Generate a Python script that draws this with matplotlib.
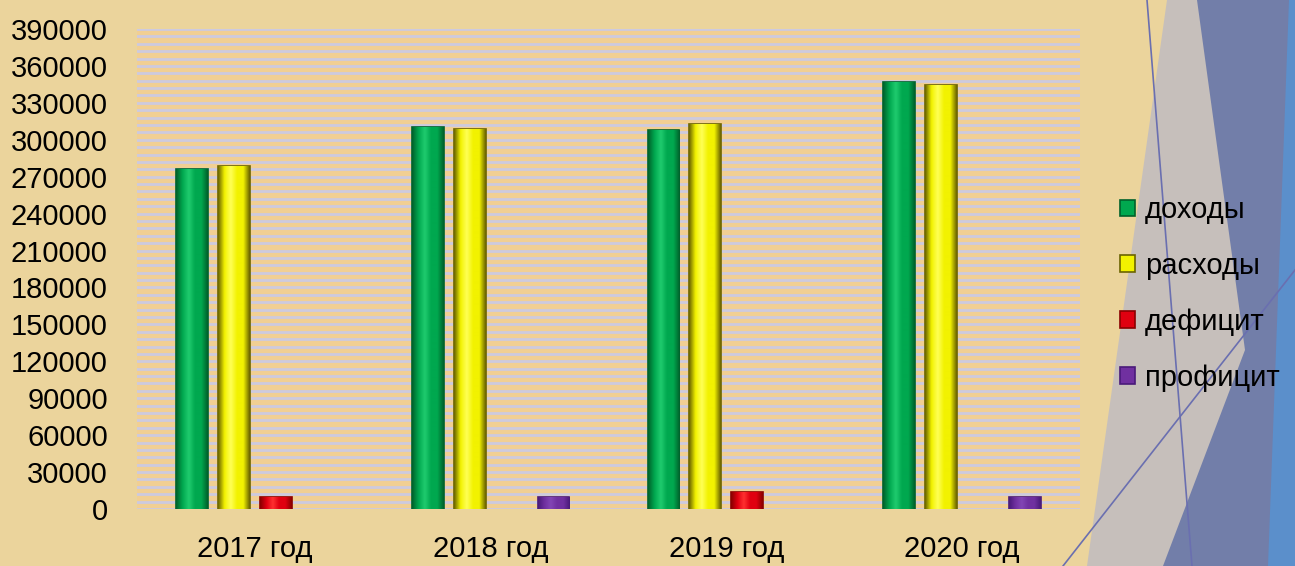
import numpy as np
import matplotlib.pyplot as plt
from matplotlib.colors import LinearSegmentedColormap
from matplotlib.patches import Polygon, Patch

# data
years = ["2017 год", "2018 год", "2019 год", "2020 год"]
dohody = [276500, 310500, 308000, 347000]
rashody = [279000, 308500, 313000, 344500]
deficit = [9700, np.nan, 13800, np.nan]
proficit = [np.nan, 9700, np.nan, 9700]

series_names = ["доходы", "расходы", "дефицит", "профицит"]
series_vals = [dohody, rashody, deficit, proficit]
# (dark edge, base, highlight)
series_cols = [
    ("#00612B", "#00A84F", "#1FCB6E"),
    ("#6B6400", "#F2F200", "#FFFF55"),
    ("#8A0000", "#E00010", "#FF3030"),
    ("#4A1A7A", "#7030A0", "#8245B5"),
]
yticks = np.arange(0, 390001, 30000)

plt.rcParams.update({
    "font.family": ["Liberation Sans", "DejaVu Sans"],
    "font.size": 21,
})

W, H = 1295, 566
fig = plt.figure(figsize=(W / 100, H / 100), dpi=100)
fig.patch.set_facecolor("#EBD49C")


def px(points):
    return [(x / W, 1 - y / H) for x, y in points]


# decorative shapes on the right
deco = [
    ([(1167, 0), (1295, 0), (1295, 566), (1087, 566)], "#BDBAC4", 0.8),
    ([(1197, 0), (1292, 0), (1270, 566), (1163, 566), (1245, 350)], "#6E7BA8", 0.95),
    ([(1289, 0), (1295, 0), (1295, 566), (1268, 566)], "#5B8FCB", 1.0),
]
for pts, col, a in deco:
    fig.patches.append(Polygon(px(pts), closed=True, transform=fig.transFigure,
                               facecolor=col, edgecolor="none", alpha=a, zorder=-2))
for p0, p1 in [((1147, 0), (1192, 566)), ((1063, 566), (1295, 270))]:
    (x0, y0), (x1, y1) = px([p0, p1])
    fig.add_artist(plt.Line2D([x0, x1], [y0, y1], transform=fig.transFigure,
                              color="#6A6FB0", lw=1.2, zorder=-1))

ax = fig.add_axes([137 / W, 1 - 509 / H, (1080 - 137) / W, (509 - 29) / H])
ax.set_facecolor("#F1CF93")
ax.set_zorder(1)

x = np.arange(len(years))
width = 0.135
step = 0.178

for i, (vals, cols) in enumerate(zip(series_vals, series_cols)):
    bars = ax.bar(x + (i - 1.5) * step, vals, width=width, color=cols[1],
                  edgecolor=cols[0], linewidth=1.2, zorder=3)
    cmap = LinearSegmentedColormap.from_list(
        f"s{i}", [cols[0], cols[1], cols[2], cols[1], cols[1], cols[0]])
    grad = np.linspace(0, 1, 64).reshape(1, -1)
    for b in bars:
        h = b.get_height()
        if not np.isfinite(h):
            continue
        im = ax.imshow(grad, extent=[b.get_x(), b.get_x() + b.get_width(), 0, h],
                       aspect="auto", cmap=cmap, zorder=3, interpolation="bilinear")
        im.set_clip_path(b)

ax.set_xlim(-0.5, len(years) - 0.5)
ax.set_ylim(0, 390000)
ax.set_yticks(yticks)
ax.set_yticklabels([str(v) for v in yticks])
ax.set_yticks(np.arange(0, 390001, 6000), minor=True)
ax.grid(True, which="both", axis="y", color="#CDCADF", lw=2.0, zorder=0)
ax.set_axisbelow(True)
ax.set_xticks(x)
ax.set_xticklabels(years)
ax.tick_params(axis="y", which="both", length=0, pad=21)
ax.tick_params(axis="x", length=0, pad=19)
for s in ax.spines.values():
    s.set_visible(False)

handles = [Patch(facecolor=c[1], edgecolor=c[0], lw=1.2) for c in series_cols]
fig.legend(handles, series_names, loc="center left",
           bbox_to_anchor=(1120 / W, 1 - 294 / H), frameon=False,
           handlelength=0.5, handleheight=0.5, handletextpad=0.35,
           labelspacing=0.95, borderpad=0, borderaxespad=0)

fig.savefig("out.png", dpi=100, facecolor=fig.get_facecolor())
